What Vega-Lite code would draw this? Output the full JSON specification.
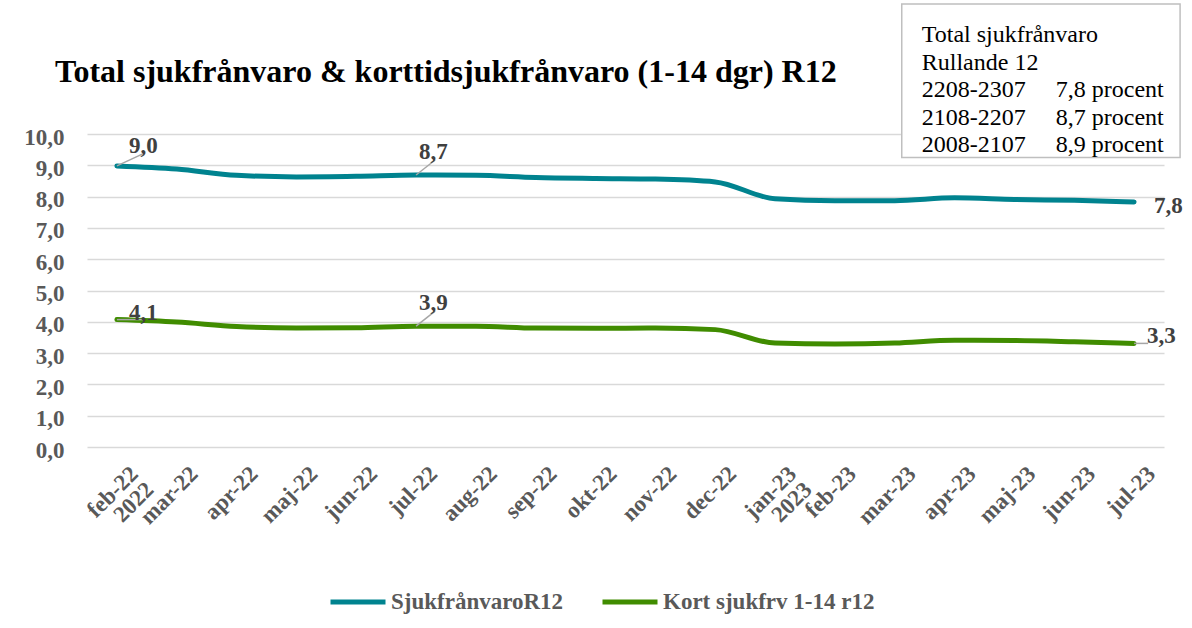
{
  "$schema": "https://vega.github.io/schema/vega-lite/v6.json",
  "width": 1077,
  "height": 313,
  "autosize": {"type": "none"},
  "padding": {"left": 87, "top": 134, "right": 28, "bottom": 181},
  "background": "white",
  "title": {
    "text": "Total sjukfrånvaro & korttidsjukfrånvaro (1-14 dgr) R12",
    "anchor": "start",
    "frame": "group",
    "dx": -32,
    "offset": -111,
    "baseline": "alphabetic",
    "font": "Liberation Serif",
    "fontSize": 32,
    "fontWeight": "bold",
    "color": "#000000"
  },
  "config": {
    "view": {"stroke": null},
    "font": "Liberation Serif",
    "locale": {"number": {"decimal": ",", "thousands": " ", "grouping": [3], "currency": ["", " kr"]}}
  },
  "datasets": {
    "main": [
      {"month": "feb-22", "series": "SjukfrånvaroR12", "value": 8.98},
      {"month": "mar-22", "series": "SjukfrånvaroR12", "value": 8.88},
      {"month": "apr-22", "series": "SjukfrånvaroR12", "value": 8.68},
      {"month": "maj-22", "series": "SjukfrånvaroR12", "value": 8.63},
      {"month": "jun-22", "series": "SjukfrånvaroR12", "value": 8.65},
      {"month": "jul-22", "series": "SjukfrånvaroR12", "value": 8.69},
      {"month": "aug-22", "series": "SjukfrånvaroR12", "value": 8.68},
      {"month": "sep-22", "series": "SjukfrånvaroR12", "value": 8.61},
      {"month": "okt-22", "series": "SjukfrånvaroR12", "value": 8.58},
      {"month": "nov-22", "series": "SjukfrånvaroR12", "value": 8.56},
      {"month": "dec-22", "series": "SjukfrånvaroR12", "value": 8.47},
      {"month": "jan-23", "series": "SjukfrånvaroR12", "value": 7.93},
      {"month": "feb-23", "series": "SjukfrånvaroR12", "value": 7.87},
      {"month": "mar-23", "series": "SjukfrånvaroR12", "value": 7.87},
      {"month": "apr-23", "series": "SjukfrånvaroR12", "value": 7.96},
      {"month": "maj-23", "series": "SjukfrånvaroR12", "value": 7.91},
      {"month": "jun-23", "series": "SjukfrånvaroR12", "value": 7.88},
      {"month": "jul-23", "series": "SjukfrånvaroR12", "value": 7.83},
      {"month": "feb-22", "series": "Kort sjukfrv 1-14 r12", "value": 4.07},
      {"month": "mar-22", "series": "Kort sjukfrv 1-14 r12", "value": 3.99},
      {"month": "apr-22", "series": "Kort sjukfrv 1-14 r12", "value": 3.85},
      {"month": "maj-22", "series": "Kort sjukfrv 1-14 r12", "value": 3.80},
      {"month": "jun-22", "series": "Kort sjukfrv 1-14 r12", "value": 3.81},
      {"month": "jul-22", "series": "Kort sjukfrv 1-14 r12", "value": 3.86},
      {"month": "aug-22", "series": "Kort sjukfrv 1-14 r12", "value": 3.86},
      {"month": "sep-22", "series": "Kort sjukfrv 1-14 r12", "value": 3.80},
      {"month": "okt-22", "series": "Kort sjukfrv 1-14 r12", "value": 3.79},
      {"month": "nov-22", "series": "Kort sjukfrv 1-14 r12", "value": 3.80},
      {"month": "dec-22", "series": "Kort sjukfrv 1-14 r12", "value": 3.75},
      {"month": "jan-23", "series": "Kort sjukfrv 1-14 r12", "value": 3.32},
      {"month": "feb-23", "series": "Kort sjukfrv 1-14 r12", "value": 3.29},
      {"month": "mar-23", "series": "Kort sjukfrv 1-14 r12", "value": 3.32},
      {"month": "apr-23", "series": "Kort sjukfrv 1-14 r12", "value": 3.41},
      {"month": "maj-23", "series": "Kort sjukfrv 1-14 r12", "value": 3.40},
      {"month": "jun-23", "series": "Kort sjukfrv 1-14 r12", "value": 3.36},
      {"month": "jul-23", "series": "Kort sjukfrv 1-14 r12", "value": 3.31}
    ],
    "box": [
      {"head": ["Total sjukfrånvaro", "Rullande 12", "2208-2307", "2108-2207", "2008-2107"],
       "pct": ["7,8 procent", "8,7 procent", "8,9 procent"]}
    ]
  },
  "data": {"name": "main"},
  "layer": [
    {
      "mark": {"type": "line", "strokeWidth": 5, "interpolate": "monotone", "strokeCap": "round"},
      "encoding": {
        "x": {
          "field": "month",
          "type": "ordinal",
          "scale": {
            "type": "point",
            "padding": 0.5,
            "domain": ["feb-22", "mar-22", "apr-22", "maj-22", "jun-22", "jul-22", "aug-22", "sep-22", "okt-22", "nov-22", "dec-22", "jan-23", "feb-23", "mar-23", "apr-23", "maj-23", "jun-23", "jul-23"]
          },
          "axis": {
            "title": null,
            "labelAngle": -45,
            "labelAlign": "right",
            "labelBaseline": "middle",
            "labelFont": "Liberation Serif",
            "labelFontSize": 23,
            "labelFontWeight": "bold",
            "labelColor": "#595959",
            "labelPadding": 23,
            "labelOffset": 17,
            "labelLineHeight": 22,
            "labelOverlap": false,
            "labelExpr": "datum.value == 'feb-22' ? ['feb-22', '2022'] : datum.value == 'jan-23' ? ['jan-23', '2023'] : datum.value",
            "ticks": false,
            "tickSize": 0,
            "domain": false,
            "grid": false
          }
        },
        "y": {
          "field": "value",
          "type": "quantitative",
          "scale": {"domain": [0, 10], "nice": false},
          "axis": {
            "title": null,
            "values": [0, 1, 2, 3, 4, 5, 6, 7, 8, 9, 10],
            "tickCount": 12,
            "format": ".1f",
            "labelFont": "Liberation Serif",
            "labelFontSize": 23,
            "labelFontWeight": "bold",
            "labelColor": "#595959",
            "labelPadding": 23,
            "labelOffset": 3,
            "labelOverlap": false,
            "ticks": false,
            "tickSize": 0,
            "domain": false,
            "grid": true,
            "gridColor": "#D9D9D9",
            "gridWidth": 1.3
          }
        },
        "color": {
          "field": "series",
          "type": "nominal",
          "scale": {"domain": ["SjukfrånvaroR12", "Kort sjukfrv 1-14 r12"], "range": ["#00838F", "#408C00"]},
          "legend": {
            "title": null,
            "orient": "none",
            "legendX": 241,
            "legendY": 438,
            "direction": "horizontal",
            "symbolType": "stroke",
            "symbolSize": 3025,
            "symbolStrokeWidth": 5,
            "labelFont": "Liberation Serif",
            "labelFontSize": 23,
            "labelFontWeight": "bold",
            "labelColor": "#595959",
            "labelOffset": 3,
            "columnPadding": 28,
            "labelLimit": 400
          }
        }
      }
    },
    {
      "transform": [{"filter": {"and": [{"field": "series", "equal": "SjukfrånvaroR12"}, {"field": "month", "equal": "feb-22"}]}}],
      "mark": {"type": "rule", "color": "#A6A6A6", "strokeWidth": 1.5, "x2Offset": 28, "y2Offset": -13},
      "encoding": {
        "x": {"field": "month", "type": "ordinal"},
        "y": {"field": "value", "type": "quantitative"},
        "x2": {"field": "month"},
        "y2": {"field": "value"}
      }
    },
    {
      "transform": [{"filter": {"field": "month", "equal": "jul-22"}}],
      "mark": {"type": "rule", "color": "#A6A6A6", "strokeWidth": 1.5, "x2Offset": 19, "y2Offset": -15},
      "encoding": {
        "x": {"field": "month", "type": "ordinal"},
        "y": {"field": "value", "type": "quantitative"},
        "x2": {"field": "month"},
        "y2": {"field": "value"}
      }
    },
    {
      "transform": [{"filter": {"and": [{"field": "series", "equal": "Kort sjukfrv 1-14 r12"}, {"field": "month", "equal": "feb-22"}]}}],
      "mark": {"type": "rule", "color": "#A6A6A6", "strokeWidth": 1.5, "x2Offset": 28, "y2Offset": 0},
      "encoding": {
        "x": {"field": "month", "type": "ordinal"},
        "y": {"field": "value", "type": "quantitative"},
        "x2": {"field": "month"},
        "y2": {"field": "value"}
      }
    },
    {
      "transform": [{"filter": {"and": [{"field": "series", "equal": "Kort sjukfrv 1-14 r12"}, {"field": "month", "equal": "jul-23"}]}}],
      "mark": {"type": "rule", "color": "#A6A6A6", "strokeWidth": 1.5, "x2Offset": 14, "y2Offset": 0},
      "encoding": {
        "x": {"field": "month", "type": "ordinal"},
        "y": {"field": "value", "type": "quantitative"},
        "x2": {"field": "month"},
        "y2": {"field": "value"}
      }
    },
    {
      "transform": [{"filter": {"and": [{"field": "series", "equal": "SjukfrånvaroR12"}, {"field": "month", "equal": "feb-22"}]}}],
      "mark": {"type": "text", "align": "left", "baseline": "alphabetic", "dx": 12, "dy": -13, "font": "Liberation Serif", "fontSize": 23, "fontWeight": "bold", "color": "#404040"},
      "encoding": {
        "x": {"field": "month", "type": "ordinal"},
        "y": {"field": "value", "type": "quantitative"},
        "text": {"field": "value", "type": "quantitative", "format": ".1f"}
      }
    },
    {
      "transform": [{"filter": {"field": "month", "equal": "jul-22"}}],
      "mark": {"type": "text", "align": "left", "baseline": "alphabetic", "dx": 3, "dy": -16, "font": "Liberation Serif", "fontSize": 23, "fontWeight": "bold", "color": "#404040"},
      "encoding": {
        "x": {"field": "month", "type": "ordinal"},
        "y": {"field": "value", "type": "quantitative"},
        "text": {"field": "value", "type": "quantitative", "format": ".1f"}
      }
    },
    {
      "transform": [{"filter": {"and": [{"field": "series", "equal": "Kort sjukfrv 1-14 r12"}, {"field": "month", "equal": "feb-22"}]}}],
      "mark": {"type": "text", "align": "left", "baseline": "alphabetic", "dx": 12, "dy": 0, "font": "Liberation Serif", "fontSize": 23, "fontWeight": "bold", "color": "#404040"},
      "encoding": {
        "x": {"field": "month", "type": "ordinal"},
        "y": {"field": "value", "type": "quantitative"},
        "text": {"field": "value", "type": "quantitative", "format": ".1f"}
      }
    },
    {
      "transform": [{"filter": {"and": [{"field": "series", "equal": "SjukfrånvaroR12"}, {"field": "month", "equal": "jul-23"}]}}],
      "mark": {"type": "text", "align": "left", "baseline": "alphabetic", "dx": 20, "dy": 11, "font": "Liberation Serif", "fontSize": 23, "fontWeight": "bold", "color": "#404040"},
      "encoding": {
        "x": {"field": "month", "type": "ordinal"},
        "y": {"field": "value", "type": "quantitative"},
        "text": {"field": "value", "type": "quantitative", "format": ".1f"}
      }
    },
    {
      "transform": [{"filter": {"and": [{"field": "series", "equal": "Kort sjukfrv 1-14 r12"}, {"field": "month", "equal": "jul-23"}]}}],
      "mark": {"type": "text", "align": "left", "baseline": "alphabetic", "dx": 13, "dy": 0, "font": "Liberation Serif", "fontSize": 23, "fontWeight": "bold", "color": "#404040"},
      "encoding": {
        "x": {"field": "month", "type": "ordinal"},
        "y": {"field": "value", "type": "quantitative"},
        "text": {"field": "value", "type": "quantitative", "format": ".1f"}
      }
    },
    {
      "data": {"name": "box"},
      "mark": {"type": "rect", "fill": "white", "stroke": "#BFBFBF", "strokeWidth": 1.5, "xOffset": 7, "x2Offset": 46},
      "encoding": {
        "x": {"datum": "mar-23", "type": "ordinal"},
        "x2": {"datum": "jul-23"},
        "y": {"datum": 14.15, "type": "quantitative"},
        "y2": {"datum": 9.25}
      }
    },
    {
      "data": {"name": "box"},
      "mark": {"type": "text", "align": "left", "baseline": "alphabetic", "dx": 27, "font": "Liberation Serif", "fontSize": 24, "color": "#000000", "lineHeight": 27.5},
      "encoding": {
        "x": {"datum": "mar-23", "type": "ordinal"},
        "y": {"datum": 12.935, "type": "quantitative"},
        "text": {"field": "head"}
      }
    },
    {
      "data": {"name": "box"},
      "mark": {"type": "text", "align": "left", "baseline": "alphabetic", "dx": 161, "font": "Liberation Serif", "fontSize": 24, "color": "#000000", "lineHeight": 27.5},
      "encoding": {
        "x": {"datum": "mar-23", "type": "ordinal"},
        "y": {"datum": 11.178, "type": "quantitative"},
        "text": {"field": "pct"}
      }
    }
  ]
}
